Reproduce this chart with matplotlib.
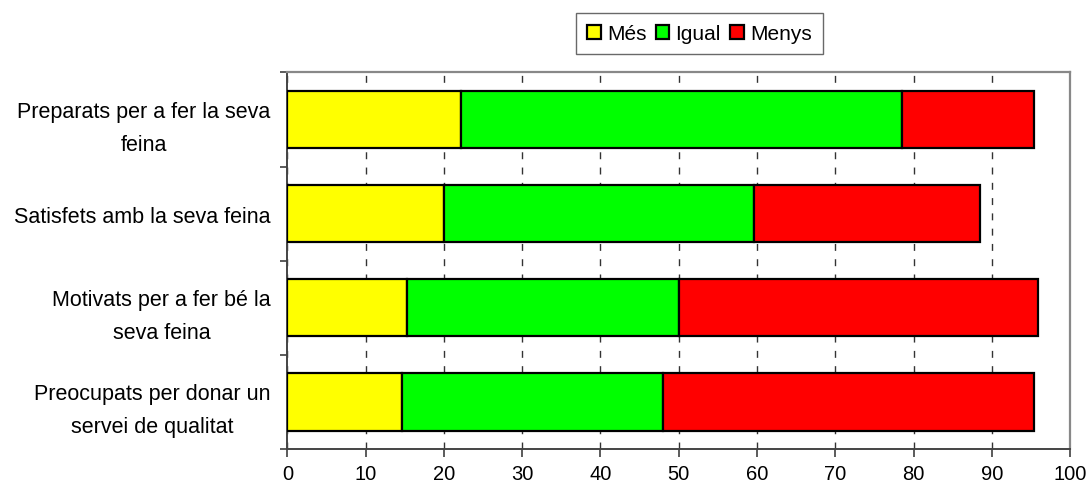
import matplotlib
matplotlib.use("Agg")
import matplotlib.pyplot as plt
import numpy as np

plt.rcParams['font.family'] = ['Liberation Sans', 'DejaVu Sans']

categories = [
    "Preparats per a fer la seva\nfeina",
    "Satisfets amb la seva feina",
    "Motivats per a fer bé la\nseva feina",
    "Preocupats per donar un\nservei de qualitat",
]
series_names = ["Més", "Igual", "Menys"]
mes = [22.2, 20.0, 15.3, 14.6]
igual = [56.3, 39.6, 34.8, 33.4]
menys = [16.9, 28.9, 45.8, 47.4]
colors = ["#FFFF00", "#00FF00", "#FF0000"]
x_ticks = [0, 10, 20, 30, 40, 50, 60, 70, 80, 90, 100]

fig = plt.figure(figsize=(10.9, 4.89), dpi=100)
ax = fig.add_axes([0.2636, 0.0798, 0.9817 - 0.2636, 0.850 - 0.0798])

n = len(categories)
ypos = np.arange(n)[::-1]
left = np.zeros(n)
for name, vals, col in zip(series_names, [mes, igual, menys], colors):
    ax.barh(ypos, vals, left=left, height=0.61, color=col,
            edgecolor="black", linewidth=1.6, label=name, zorder=3)
    left = left + np.array(vals)

ax.set_xlim(0, 100)
ax.set_ylim(-0.5, n - 0.5)
ax.set_xticks(x_ticks)
ax.set_xticklabels([str(v) for v in x_ticks], fontsize=14.5)

ax.set_yticks(ypos)
ax.set_yticklabels(categories, fontsize=15.5, linespacing=1.75)
for t in ax.get_yticklabels():
    t.set_multialignment("center")
ax.set_yticks(np.arange(n + 1) - 0.5, minor=True)
ax.tick_params(axis="y", which="major", length=0, pad=12)
ax.tick_params(axis="y", which="minor", length=5, width=1.2, color="#404040")
ax.tick_params(axis="x", which="major", length=6, width=1.2, color="#404040", pad=5)

ax.xaxis.grid(True, linestyle=(0, (5, 6)), color="#333333", linewidth=1.0, zorder=0)
ax.set_axisbelow(True)

for side in ["left", "bottom"]:
    ax.spines[side].set_color("#444444")
    ax.spines[side].set_linewidth(1.4)
for side in ["top", "right"]:
    ax.spines[side].set_color("#888888")
    ax.spines[side].set_linewidth(1.6)

leg = fig.legend(loc="center", bbox_to_anchor=(0.6417, 0.9295), ncol=3,
                 fontsize=15, frameon=True, fancybox=False, edgecolor="#444444",
                 handlelength=0.65, handleheight=0.65, handletextpad=0.3,
                 columnspacing=0.45, borderpad=0.55, borderaxespad=0.3)
leg.get_frame().set_linewidth(1.0)

fig.savefig("out.png", dpi=100)
